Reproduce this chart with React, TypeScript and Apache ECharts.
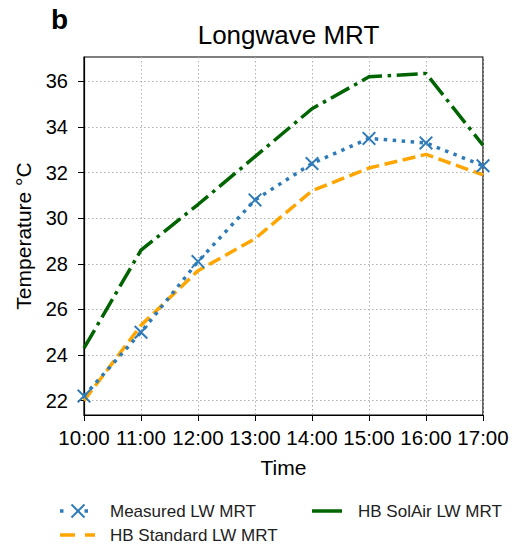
import React, { useEffect, useRef } from "react";
import * as echarts from "echarts";

const times = ["10:00", "11:00", "12:00", "13:00", "14:00", "15:00", "16:00", "17:00"];
const measured = [22.2, 25.0, 28.1, 30.8, 32.4, 33.5, 33.3, 32.3];
const hbStandard = [22.0, 25.3, 27.7, 29.1, 31.2, 32.2, 32.8, 31.9];
const hbSolAir = [24.3, 28.6, 30.6, 32.7, 34.8, 36.2, 36.35, 33.2];
const yTicks = [22, 24, 26, 28, 30, 32, 34, 36];
const seriesNames = ["Measured LW MRT", "HB Standard LW MRT", "HB SolAir LW MRT"];

const FONT = "Liberation Sans, Arial, sans-serif";
const BLUE = "#2f7bb8";
const ORANGE = "#ffa500";
const GREEN = "#006400";
const X_SYMBOL = "path://M0,1 L1,0 L5,4 L9,0 L10,1 L6,5 L10,9 L9,10 L5,6 L1,10 L0,9 L4,5 Z";

export default function App() {
  const ref = useRef<HTMLDivElement>(null);
  useEffect(() => {
    const chart = echarts.init(ref.current!, null, { renderer: "svg" });
    const legendText = (text: string, x: number, y: number) => ({
      type: "text",
      x,
      y,
      style: { text, fontFamily: FONT, fontSize: 17, fill: "#222", verticalAlign: "middle", align: "left" },
    });
    chart.setOption({
      animation: false,
      backgroundColor: "#fff",
      textStyle: { fontFamily: FONT },
      title: {
        text: "Longwave MRT",
        left: 283.5,
        textAlign: "center",
        top: 17,
        textStyle: { fontFamily: FONT, fontSize: 26, fontWeight: "normal", color: "#000" },
      },
      graphic: [
        {
          type: "text",
          x: 51,
          y: 5,
          style: { text: "b", fontFamily: FONT, fontSize: 28, fontWeight: "bold", fill: "#000" },
        },
        // legend: Measured
        {
          type: "line",
          shape: { x1: 60, y1: 511, x2: 90, y2: 511 },
          style: { stroke: BLUE, lineWidth: 3.5, lineDash: [3.5, 21] },
        },
        { type: "line", shape: { x1: 71.5, y1: 504.5, x2: 84.5, y2: 517.5 }, style: { stroke: BLUE, lineWidth: 2 } },
        { type: "line", shape: { x1: 71.5, y1: 517.5, x2: 84.5, y2: 504.5 }, style: { stroke: BLUE, lineWidth: 2 } },
        legendText(seriesNames[0], 110, 511),
        // legend: HB Standard
        {
          type: "line",
          shape: { x1: 60, y1: 535, x2: 95, y2: 535 },
          style: { stroke: ORANGE, lineWidth: 3.5, lineDash: [15, 10] },
        },
        legendText(seriesNames[1], 110, 535),
        // legend: HB SolAir
        {
          type: "line",
          shape: { x1: 312, y1: 511, x2: 342, y2: 511 },
          style: { stroke: GREEN, lineWidth: 3.5 },
        },
        legendText(seriesNames[2], 358, 511),
      ],
      grid: {
        left: 84,
        right: 34,
        top: 57,
        bottom: 132,
        show: true,
        borderColor: "#000",
        borderWidth: 1.2,
        containLabel: false,
      },
      xAxis: {
        type: "category",
        data: times,
        boundaryGap: false,
        name: "Time",
        nameLocation: "middle",
        nameGap: 42,
        nameTextStyle: { fontFamily: FONT, fontSize: 21, color: "#000" },
        axisLine: { show: true, lineStyle: { color: "#000", width: 1.2 } },
        axisTick: { show: true, interval: 0, alignWithLabel: true, length: 6, lineStyle: { color: "#000" } },
        axisLabel: { interval: 0, hideOverlap: false, fontFamily: FONT, fontSize: 20.5, color: "#000", margin: 12 },
        splitLine: { show: true, interval: 0, lineStyle: { color: "#b0b0b0", type: [1.5, 2.5], width: 1 } },
      },
      yAxis: {
        type: "value",
        min: 21.37,
        max: 37.07,
        name: "Temperature °C",
        nameLocation: "middle",
        nameGap: 50,
        nameTextStyle: { fontFamily: FONT, fontSize: 21, color: "#000" },
        axisLine: { show: true, lineStyle: { color: "#000", width: 1.2 } },
        axisTick: { show: true, length: 6, lineStyle: { color: "#000" }, customValues: yTicks },
        axisLabel: { fontFamily: FONT, fontSize: 20, color: "#000", margin: 16, customValues: yTicks },
        splitLine: { show: true, lineStyle: { color: "#b0b0b0", type: [1.5, 2.5], width: 1 } },
      },
      series: [
        {
          name: seriesNames[0],
          type: "line",
          data: measured,
          symbol: X_SYMBOL,
          symbolSize: 14,
          showAllSymbol: true,
          itemStyle: { color: BLUE },
          lineStyle: { color: BLUE, width: 3.5, type: [3.5, 5.5] },
          z: 4,
        },
        {
          name: seriesNames[1],
          type: "line",
          data: hbStandard,
          symbol: "none",
          itemStyle: { color: ORANGE },
          lineStyle: { color: ORANGE, width: 3.5, type: [13, 5.6] },
          z: 3,
        },
        {
          name: seriesNames[2],
          type: "line",
          data: hbSolAir,
          symbol: "none",
          itemStyle: { color: GREEN },
          lineStyle: { color: GREEN, width: 3.5, type: [21, 5.6, 3.5, 5.6] },
          z: 2,
        },
      ],
    });
    return () => chart.dispose();
  }, []);
  return <div ref={ref} style={{ width: 517, height: 547, position: "absolute", left: 0, top: 0 }} />;
}
